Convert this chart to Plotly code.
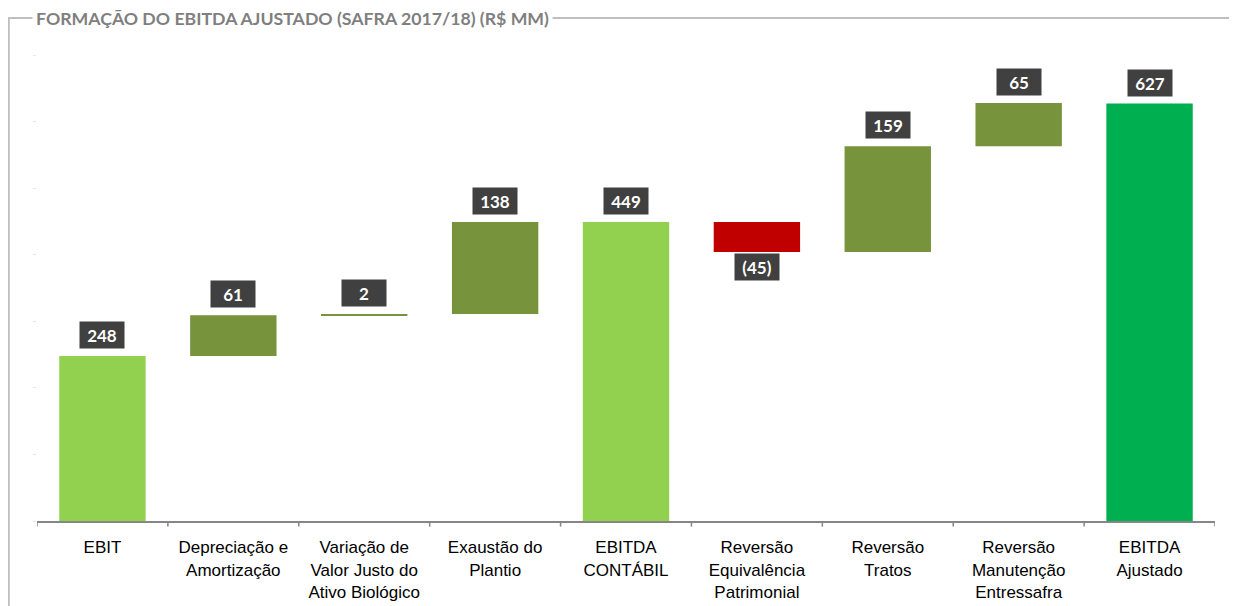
import plotly.graph_objects as go

categories = ["EBIT", "Depreciação e<br>Amortização", "Variação de<br>Valor Justo do<br>Ativo Biológico",
              "Exaustão do<br>Plantio", "EBITDA<br>CONTÁBIL", "Reversão<br>Equivalência<br>Patrimonial",
              "Reversão<br>Tratos", "Reversão<br>Manutenção<br>Entressafra", "EBITDA<br>Ajustado"]
values = [248, 61, 2, 138, 449, -45, 159, 65, 627]
kinds = ["total", "delta", "delta", "delta", "total", "delta", "delta", "delta", "total"]
labels = ["248", "61", "2", "138", "449", "(45)", "159", "65", "627"]

# compute bases
bases, heights, tops, bottoms = [], [], [], []
running = 0
for v, k in zip(values, kinds):
    if k == "total":
        b, h = 0, v
        running = v
    else:
        b, h = running, v
        running += v
    bases.append(b)
    heights.append(h)
    tops.append(max(b, b + h))
    bottoms.append(min(b, b + h))

colors = []
for i, (v, k) in enumerate(zip(values, kinds)):
    if k == "total":
        colors.append("#00B050" if i == len(values) - 1 else "#92D050")
    else:
        colors.append("#C00000" if v < 0 else "#77933C")

fig = go.Figure()
fig.add_trace(go.Bar(x=list(range(len(categories))), y=heights, base=bases,
                     marker=dict(color=colors, line=dict(width=0)),
                     width=0.66, hoverinfo="skip"))

for i, (v, lab) in enumerate(zip(values, labels)):
    common = dict(x=i, xref="x", yref="y", text=f"<b>{lab}</b>", showarrow=False,
                  bgcolor="#404040", font=dict(color="white", size=17, family="Lato"),
                  width=40, height=22, borderpad=2)
    if v < 0:
        fig.add_annotation(y=bottoms[i], yanchor="top", yshift=-1, **common)
    else:
        fig.add_annotation(y=tops[i], yanchor="bottom", yshift=7, **common)

# page offset (body margin) compensation
OFF = 8
FW, FH = 1237, 606
# desired plot area in page pixels
PL, PR, PT, PB = 37, 1215, 53, 521
L = PL - OFF
R = FW - (PR - OFF)
T = PT - OFF
B = FH - (PB - OFF)
W, H = FW - L - R, FH - T - B

def px(x):
    return (x - OFF - L) / W

def py(y):
    return (FH - B - (y - OFF)) / H

fig.add_shape(type="line", xref="paper", yref="paper", x0=px(8.8), x1=px(8.8), y0=py(18), y1=py(620),
              line=dict(color="#BFBFBF", width=2))
fig.add_shape(type="line", xref="paper", yref="paper", x0=px(8), x1=px(1245), y0=py(18), y1=py(18),
              line=dict(color="#BFBFBF", width=2))
fig.add_annotation(xref="paper", yref="paper", x=px(32), y=py(18), xanchor="left", yanchor="middle",
                   text="<b>FORMAÇÃO DO EBITDA AJUSTADO (SAFRA 2017/18) (R$ MM)</b>", showarrow=False,
                   bgcolor="white", borderpad=3, font=dict(color="#7F7F7F", size=17.7, family="Lato"))

fig.update_layout(
    width=FW, height=FH,
    margin=dict(l=L, r=R, t=T, b=B, autoexpand=False),
    paper_bgcolor="white", plot_bgcolor="white",
    showlegend=False,
    xaxis=dict(tickmode="array", tickvals=list(range(len(categories))), ticktext=categories,
               range=[-0.5, len(categories) - 0.5], showline=True, linecolor="#868686", linewidth=2,
               ticks="", ticklabelstandoff=10,
               tickfont=dict(family="Liberation Sans", size=17, color="black"),
               showgrid=False, zeroline=False, automargin=False),
    yaxis=dict(range=[0, 703], dtick=100, showticklabels=False, showgrid=False, zeroline=False,
               ticks="outside", ticklen=3, tickcolor="#E6E6E6", showline=False, automargin=False),
)

# category boundary tick marks on x-axis
for j in range(len(categories) + 1):
    fig.add_shape(type="line", xref="x", yref="paper", x0=j - 0.5, x1=j - 0.5, y0=0, y1=-0.012,
                  line=dict(color="#868686", width=1.5))

fig.write_html("out.html")
